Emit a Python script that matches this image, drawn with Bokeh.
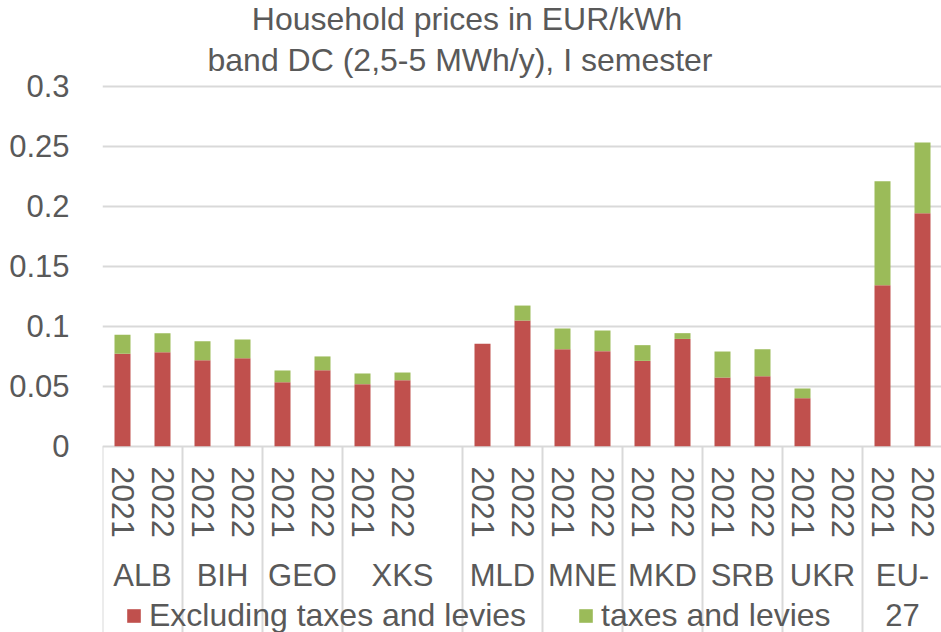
import math
from bokeh.plotting import figure
from bokeh.models import ColumnDataSource, Range1d, FixedTicker
from bokeh.core.properties import value
from bokeh.embed import file_html
from bokeh.resources import INLINE

# ---------------- data ----------------
title_lines = ["Household prices in EUR/kWh", "band DC (2,5-5 MWh/y), I semester"]
groups = ["ALB", "BIH", "GEO", "XKS", "MLD", "MNE", "MKD", "SRB", "UKR", "EU-27"]
group_display = ["ALB", "BIH", "GEO", "XKS", "MLD", "MNE", "MKD", "SRB", "UKR", "EU-\n27"]
group_years = [
    ["2021", "2022"], ["2021", "2022"], ["2021", "2022"], ["2021", "2022", ""],
    ["2021", "2022"], ["2021", "2022"], ["2021", "2022"], ["2021", "2022"],
    ["2021", "2022"], ["2021", "2022"],
]
excluding = [0.0770, 0.0783, 0.0717, 0.0733, 0.0533, 0.0633, 0.0517, 0.0550, 0.0,
             0.0853, 0.1047, 0.0808, 0.0792, 0.0711, 0.0894, 0.0572, 0.0583, 0.0400, 0.0,
             0.1342, 0.1942]
taxes = [0.0158, 0.0159, 0.0158, 0.0156, 0.0098, 0.0115, 0.0089, 0.0064, 0.0,
         0.0, 0.0125, 0.0173, 0.0172, 0.0131, 0.0048, 0.0217, 0.0225, 0.0081, 0.0,
         0.0866, 0.0589]
series_names = ["Excluding taxes and levies", "taxes and levies"]
series_colors = ["#C0504D", "#9BBB59"]
y_ticks = [0, 0.05, 0.1, 0.15, 0.2, 0.25, 0.3]
y_tick_labels = ["0", "0.05", "0.1", "0.15", "0.2", "0.25", "0.3"]

# ---------------- layout constants ----------------
W, H = 941, 632
LEFT = 102
PX_PER_SLOT = 40.0
PX_PER_UNIT = 1200.0
ZERO_PX = 445.7            # zero line, px from figure top
TEXT = "#595959"
FONT = "Liberation Sans"
FS = "31px"

frame_w = W - LEFT
x_end = frame_w / PX_PER_SLOT
y_top = ZERO_PX / PX_PER_UNIT
y_bot = -(H - ZERO_PX) / PX_PER_UNIT

def ypx(px_from_top):
    return (ZERO_PX - px_from_top) / PX_PER_UNIT

def xpx(px_from_left):
    return (px_from_left - LEFT) / PX_PER_SLOT

# slots
slot_year, slot_group, slot_x = [], [], []
group_center, boundaries = [], [0.0]
i = 0
for g, yrs in zip(groups, group_years):
    start = i
    for y in yrs:
        slot_year.append(y)
        slot_group.append(g)
        slot_x.append(i + 0.5)
        i += 1
    group_center.append((start + i) / 2.0)
    boundaries.append(float(i))

src = ColumnDataSource(dict(x=slot_x, excl=excluding, tax=taxes, year=slot_year, grp=slot_group))

p = figure(width=W, height=H, output_backend="svg", toolbar_location=None,
           x_range=Range1d(0, x_end), y_range=Range1d(y_bot, y_top),
           min_border_left=LEFT, min_border_right=0, min_border_top=0, min_border_bottom=0)
p.outline_line_color = None
p.background_fill_color = "white"
p.xaxis.visible = False
p.xgrid.visible = False
p.ygrid.ticker = FixedTicker(ticks=y_ticks)
p.ygrid.grid_line_color = "#D9D9D9"
p.ygrid.grid_line_width = 2
p.yaxis.ticker = FixedTicker(ticks=y_ticks)
p.yaxis.major_label_overrides = {t: l for t, l in zip(y_ticks, y_tick_labels)}
p.yaxis.axis_line_color = None
p.yaxis.major_tick_line_color = None
p.yaxis.minor_tick_line_color = None
p.yaxis.major_label_standoff = 27
p.yaxis.major_label_text_font = FONT
p.yaxis.major_label_text_font_size = FS
p.yaxis.major_label_text_color = TEXT

# group separators below the axis
p.segment(x0=boundaries, x1=boundaries, y0=[0] * len(boundaries), y1=[y_bot] * len(boundaries),
          line_color="#D9D9D9", line_width=2)

p.vbar_stack(["excl", "tax"], x="x", width=0.4, source=src, color=series_colors,
             line_color=None, legend_label=series_names)

# year labels
p.text(x=slot_x, y=[ypx(466)] * len(slot_x), text=slot_year, angle=-math.pi / 2,
       text_align="left", text_baseline="middle", text_font=value(FONT),
       text_font_size="32px", text_color=TEXT)

# group labels
p.text(x=group_center, y=[ypx(557)] * len(group_center), text=group_display,
       text_align="center", text_baseline="top", text_font=value(FONT),
       text_font_size=FS, text_color=TEXT, text_line_height=1.16)

# title
p.text(x=[xpx(466.5), xpx(459.5)], y=[ypx(0.5), ypx(41)], text=title_lines,
       text_align="center", text_baseline="top", text_font=value(FONT),
       text_font_size="32px", text_color=TEXT)

lg = p.legend[0]
lg.location = (23, -2)
lg.orientation = "horizontal"
lg.glyph_width = 17
lg.glyph_height = 17
lg.label_standoff = 7
lg.spacing = 51
lg.padding = 0
lg.margin = 0
lg.border_line_color = None
lg.background_fill_alpha = 0
lg.label_text_font = FONT
lg.label_text_font_size = "32px"
lg.label_text_color = TEXT

open("out.html", "w").write(file_html(p, INLINE))
